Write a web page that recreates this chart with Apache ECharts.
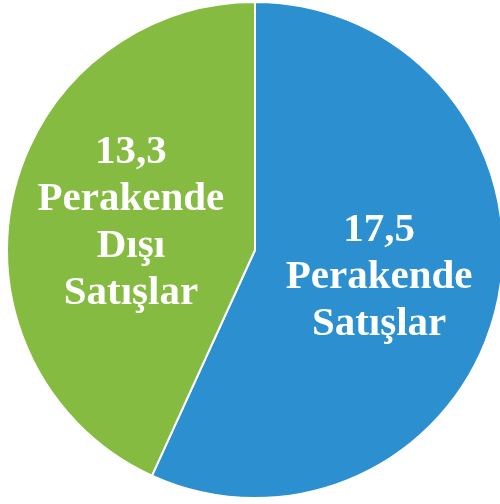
<!DOCTYPE html>
<html>
<head>
<meta charset="utf-8">
<script src="https://cdn.jsdelivr.net/npm/echarts@6/dist/echarts.min.js"></script>
<style>
  html, body { margin: 0; padding: 0; background: #fff; }
  #chart { width: 500px; height: 504px; }
</style>
</head>
<body>
<div id="chart"></div>
<script>
// satış dağılımı
const categories = ['Perakende\nSatışlar', 'Perakende\nDışı\nSatışlar'];
const values = [17.5, 13.3];
const colors = ['#2b8fd0', '#85bb41'];

const myChart = echarts.init(document.getElementById('chart'));

let option = {
    animation: false,
    series: [{
        type: 'pie',
        center: [255, 250],
        radius: 248,
        startAngle: 90,
        clockwise: true,
        itemStyle: {
            borderColor: '#fff',
            borderWidth: 2
        },
        label: {
            show: true,
            position: 'inside',
            color: '#fff',
            fontFamily: 'Liberation Serif',
            fontWeight: 'bold',
            fontSize: 41,
            lineHeight: 47,
            align: 'center',
            formatter: function (p) {
                return String(p.value).replace('.', ',') + '\n' + p.name;
            }
        },
        labelLine: { show: false },
        data: categories.map((name, i) => ({
            name: name,
            value: values[i],
            itemStyle: { color: colors[i] }
        }))
    }]
};
myChart.setOption(option);
</script>
</body>
</html>
